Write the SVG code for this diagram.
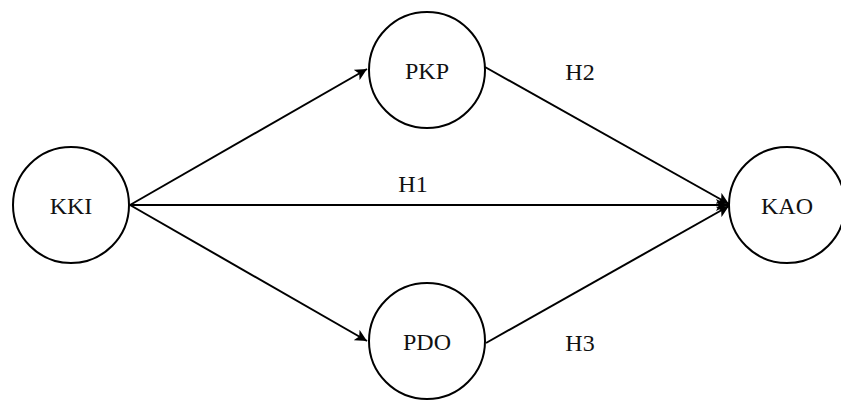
<svg xmlns="http://www.w3.org/2000/svg" width="841" height="401" viewBox="0 0 841 401">
  <style>
    .node circle { fill: #fff; stroke: #000; stroke-width: 2; }
    .label { font-family: "Liberation Serif", "Times New Roman", serif; font-size: 24px; fill: #111; text-anchor: middle; dominant-baseline: central; }
    .edge { stroke: #000; stroke-width: 2; fill: none; marker-end: url(#arrow); }
  </style>
  <defs>
    <marker id="arrow" viewBox="0 0 10 10" refX="10" refY="5" markerWidth="6" markerHeight="6" markerUnits="strokeWidth" orient="auto">
      <path d="M0,0 L10,5 L0,10 L2.5,5 Z" fill="#000"/>
    </marker>
  </defs>
  <rect width="841" height="401" fill="#fff"/>

  <g id="connectors">
    <line class="edge" x1="130" y1="205" x2="367" y2="69"/>
    <line class="edge" x1="130" y1="205" x2="728" y2="205"/>
    <line class="edge" x1="130" y1="205" x2="367" y2="341"/>
    <line class="edge" x1="485" y1="67" x2="729" y2="204"/>
    <line class="edge" x1="486" y1="343" x2="729" y2="206"/>
    <text class="label" x="413" y="184">H1</text>
    <text class="label" x="580" y="72">H2</text>
    <text class="label" x="580" y="343">H3</text>
  </g>

  <g id="KKI" class="node">
    <circle cx="71" cy="205" r="58"/>
    <text class="label" x="71" y="206">KKI</text>
  </g>
  <g id="PKP" class="node">
    <circle cx="427" cy="70" r="58"/>
    <text class="label" x="427" y="71">PKP</text>
  </g>
  <g id="PDO" class="node">
    <circle cx="427" cy="341" r="58"/>
    <text class="label" x="427" y="342">PDO</text>
  </g>
  <g id="KAO" class="node">
    <circle cx="787" cy="205" r="58"/>
    <text class="label" x="787" y="206">KAO</text>
  </g>
</svg>
